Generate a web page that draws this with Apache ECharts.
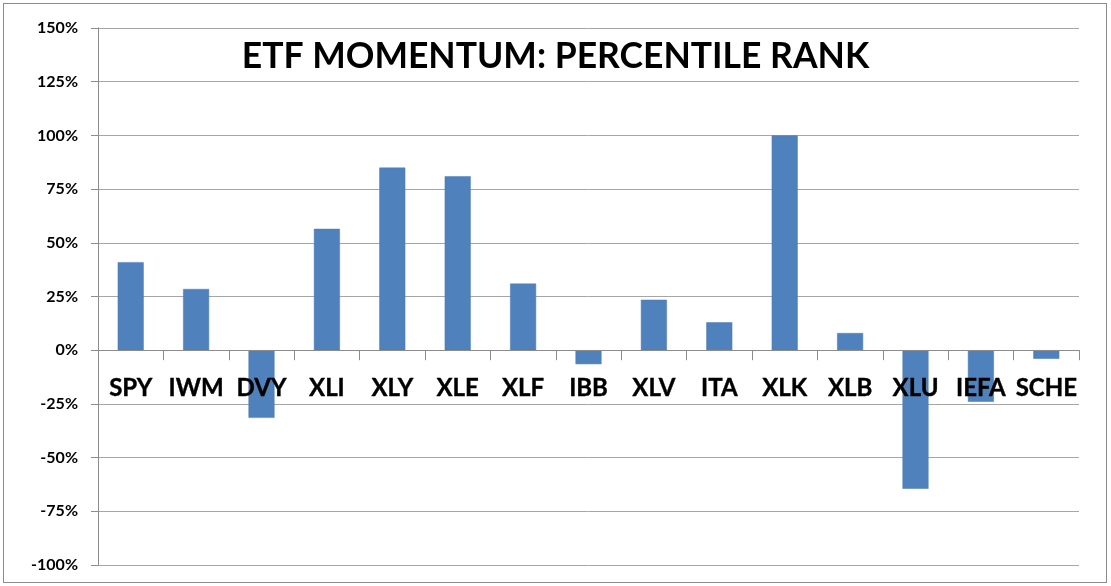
<!DOCTYPE html>
<html>
<head>
<meta charset="utf-8">
<script src="https://cdn.jsdelivr.net/npm/echarts@6/dist/echarts.min.js"></script>
<style>
  html, body { margin: 0; padding: 0; background: #fff; }
  #frame { position: absolute; left: 3px; top: 3px; width: 1102px; height: 578px; border: 1px solid #8c8c8c; }
  #chart { position: absolute; left: 0; top: 0; width: 1111px; height: 586px; }
</style>
</head>
<body>
<div id="frame"></div>
<div id="chart"></div>
<script>
// ETF momentum, percentile rank (%)
const categories = ['SPY', 'IWM', 'DVY', 'XLI', 'XLY', 'XLE', 'XLF', 'IBB', 'XLV', 'ITA', 'XLK', 'XLB', 'XLU', 'IEFA', 'SCHE']
const values = [41, 28.5, -31.5, 56.5, 85, 81, 31, -6.5, 23.5, 13, 100, 8, -64.5, -24, -4]
const yMin = -100
const yMax = 150
const yStep = 25

const chart = echarts.init(document.getElementById('chart'))

chart.setOption({
  animation: false,
  title: {
    text: 'ETF MOMENTUM: PERCENTILE RANK',
    left: 'center',
    top: 34,
    textStyle: { fontFamily: 'Lato', fontWeight: 'bold', fontSize: 35.5, color: '#000' }
  },
  grid: { left: 98, right: 32, top: 28, bottom: 21, outerBoundsMode: 'none', containLabel: false },
  xAxis: {
    type: 'category',
    data: categories,
    z: 10,
    axisLine: { onZero: true, lineStyle: { color: '#8c8c8c', width: 1 } },
    axisTick: { show: true, length: 10, lineStyle: { color: '#8c8c8c' } },
    axisLabel: { show: false }
  },
  yAxis: {
    type: 'value',
    min: yMin,
    max: yMax,
    interval: yStep,
    axisLine: { show: true, lineStyle: { color: '#8c8c8c', width: 1 } },
    axisTick: { show: true, length: 7, lineStyle: { color: '#8c8c8c' } },
    axisLabel: {
      margin: 20,
      formatter: v => v + '%',
      fontFamily: 'Lato',
      fontWeight: 'bold',
      fontSize: 16,
      color: '#000'
    },
    splitLine: { lineStyle: { color: '#a6a6a6', width: 1 } }
  },
  series: [{
    type: 'bar',
    data: values,
    barWidth: 26,
    itemStyle: { color: '#4f81bd', borderColor: '#4a7ab3', borderWidth: 0.5 }
  }, {
    // category names sit just under the zero line, like the excel chart
    type: 'scatter',
    z: 20,
    symbolSize: 2,
    itemStyle: { color: 'rgba(0,0,0,0)', opacity: 1 },
    silent: true,
    data: categories.map(c => ({ name: c, value: [c, 0] })),
    label: {
      show: true,
      position: 'bottom',
      distance: 25,
      formatter: p => p.name,
      fontFamily: 'Lato',
      fontWeight: 'bold',
      fontSize: 24,
      color: '#000',
      textBorderColor: '#000',
      textBorderWidth: 0.4
    }
  }]
})
</script>
</body>
</html>
